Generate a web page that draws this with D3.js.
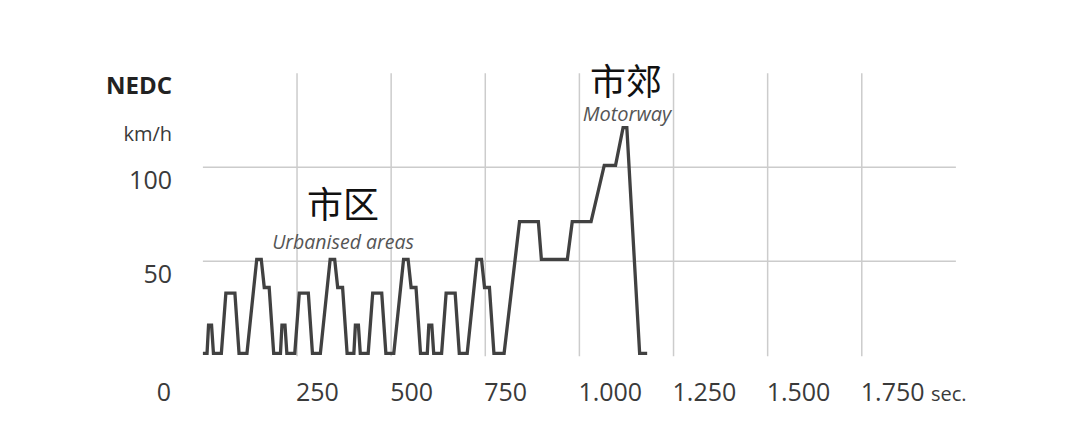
<!DOCTYPE html>
<html>
<head>
<meta charset="utf-8">
<script src="https://cdn.jsdelivr.net/npm/d3@7"></script>
<style>
  html, body { margin: 0; padding: 0; background: #fff; }
  svg { display: block; }
</style>
</head>
<body>
<svg id="chart" width="1080" height="422"></svg>
<script>
// ---- Data (NEDC speed profile) ----
const timeSec = [
  0, 11, 15, 23, 28, 49, 61, 85, 96, 117, 143, 155, 163, 176, 188, 195,
  206, 210, 218, 223, 244, 256, 280, 291, 312, 338, 350, 358, 371, 383, 390,
  401, 405, 413, 418, 439, 451, 475, 486, 507, 533, 545, 553, 566, 578, 585,
  596, 600, 608, 613, 634, 646, 670, 681, 702, 728, 740, 748, 761, 773, 780,
  800, 841, 891, 899, 968, 981, 1031, 1066, 1096, 1116, 1126, 1160, 1180
];
const speedKmh = [
  0, 0, 15, 15, 0, 0, 32, 32, 0, 0, 50, 50, 35, 35, 0, 0,
  0, 15, 15, 0, 0, 32, 32, 0, 0, 50, 50, 35, 35, 0, 0,
  0, 15, 15, 0, 0, 32, 32, 0, 0, 50, 50, 35, 35, 0, 0,
  0, 15, 15, 0, 0, 32, 32, 0, 0, 50, 50, 35, 35, 0, 0,
  0, 70, 70, 50, 50, 70, 70, 100, 100, 120, 120, 0, 0
];
const xTicks = [250, 500, 750, 1000, 1250, 1500, 1750];
const xTickLabels = ["250", "500", "750", "1.000", "1.250", "1.500", "1.750"];
const yTicks = [50, 100];
const yTickLabels = ["50", "100"];
const xDomain = [0, 2000];
const yDomain = [0, 150];

// ---- Layout ----
const svg = d3.select("#chart");
const x = d3.scaleLinear().domain(xDomain).range([202.9, 955.9]);
const y = d3.scaleLinear().domain(yDomain).range([355.3, 73.3]);
const FONT = "'Open Sans', 'Noto Sans', sans-serif";
const CJK = "'Noto Sans CJK SC', sans-serif";

// gridlines
const grid = svg.append("g");
grid.selectAll("line.v").data(xTicks).join("line")
  .attr("x1", d => x(d)).attr("x2", d => x(d))
  .attr("y1", y(yDomain[1])).attr("y2", y(0) + 1)
  .attr("stroke", "#cccccc").attr("stroke-width", 1.5);
grid.selectAll("line.h").data(yTicks).join("line")
  .attr("x1", x(0)).attr("x2", x(xDomain[1]))
  .attr("y1", d => y(d)).attr("y2", d => y(d))
  .attr("stroke", "#cccccc").attr("stroke-width", 1.5);

// speed line
const pts = timeSec.map((t, i) => [t, speedKmh[i]]);
svg.append("path")
  .datum(pts)
  .attr("d", d3.line().x(d => x(d[0])).y(d => y(d[1]) - 2))
  .attr("fill", "none")
  .attr("stroke", "#414141")
  .attr("stroke-width", 3.3)
  .attr("stroke-linejoin", "miter");

// y labels
svg.selectAll("text.ylab").data(yTicks).join("text")
  .attr("x", 172).attr("y", d => y(d) + 22)
  .attr("text-anchor", "end")
  .attr("font-family", FONT).attr("font-size", 25)
  .attr("fill", "#3a3a3a")
  .text((d, i) => yTickLabels[i]);

svg.append("text").attr("x", 172).attr("y", 141)
  .attr("text-anchor", "end").attr("font-family", FONT).attr("font-size", 20)
  .attr("fill", "#3a3a3a").text("km/h");
svg.append("text").attr("x", 172).attr("y", 94)
  .attr("text-anchor", "end").attr("font-family", FONT).attr("font-size", 24)
  .attr("font-weight", 700).attr("fill", "#222").text("NEDC");

// x labels
svg.selectAll("text.xlab").data(xTicks).join("text")
  .attr("x", d => x(d) - 1).attr("y", 401)
  .attr("text-anchor", "start")
  .attr("font-family", FONT).attr("font-size", 25)
  .attr("fill", "#3a3a3a")
  .text((d, i) => xTickLabels[i]);
svg.append("text").attr("x", 164).attr("y", 401)
  .attr("text-anchor", "middle").attr("font-family", FONT).attr("font-size", 25)
  .attr("fill", "#3a3a3a").text("0");
svg.append("text").attr("x", 931).attr("y", 401)
  .attr("text-anchor", "start").attr("font-family", FONT).attr("font-size", 20)
  .attr("fill", "#3a3a3a").text("sec.");

// annotations
svg.append("text").attr("x", 343).attr("y", 218)
  .attr("text-anchor", "middle").attr("font-family", CJK).attr("font-size", 36)
  .attr("fill", "#111").text("市区");
svg.append("text").attr("x", 343).attr("y", 249)
  .attr("text-anchor", "middle").attr("font-family", FONT).attr("font-size", 19.5)
  .attr("font-style", "italic").attr("fill", "#555").text("Urbanised areas");
svg.append("text").attr("x", 626).attr("y", 95)
  .attr("text-anchor", "middle").attr("font-family", CJK).attr("font-size", 36)
  .attr("fill", "#111").text("市郊");
svg.append("text").attr("x", 627).attr("y", 121)
  .attr("text-anchor", "middle").attr("font-family", FONT).attr("font-size", 20)
  .attr("font-style", "italic").attr("fill", "#555").text("Motorway");
</script>
</body>
</html>
